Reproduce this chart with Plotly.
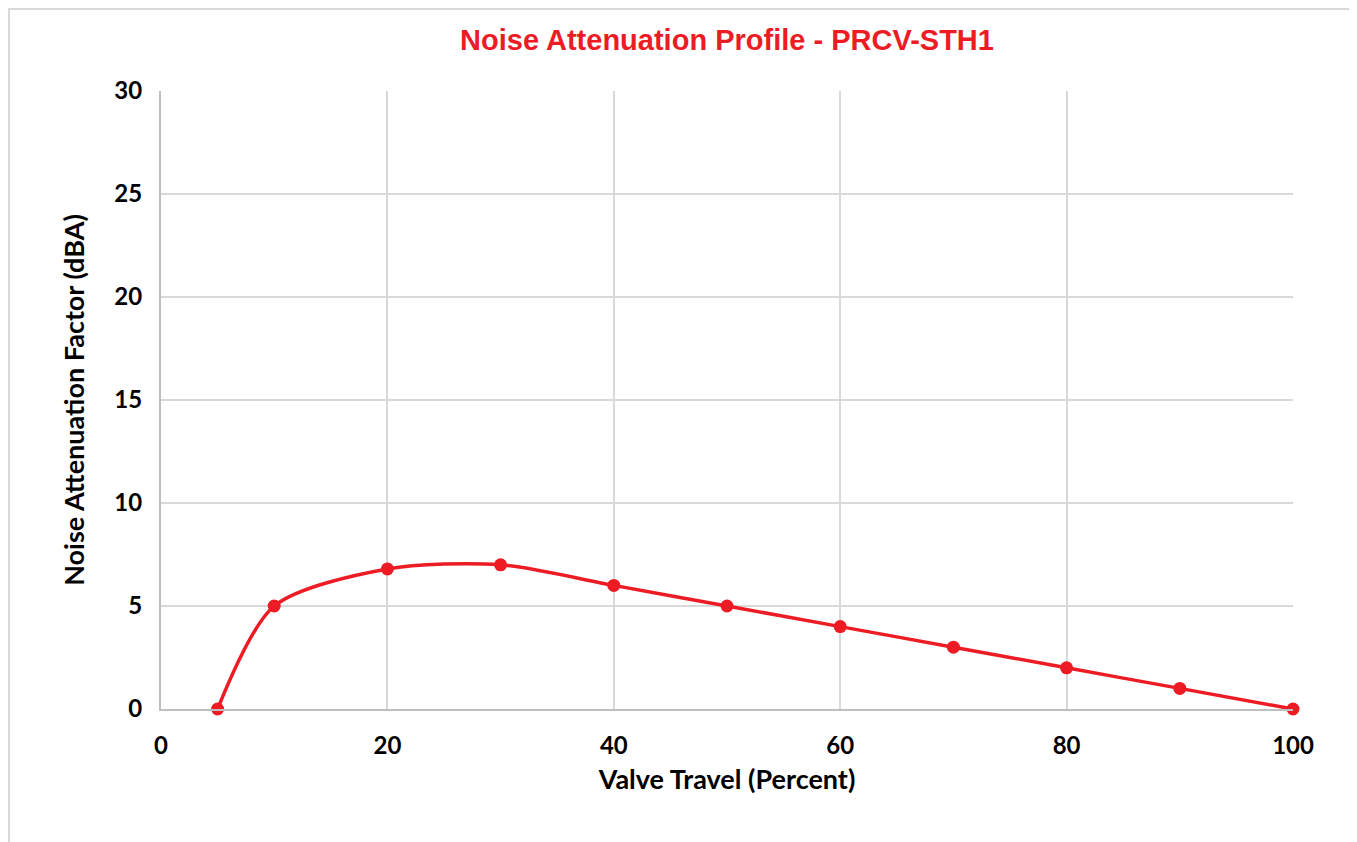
import plotly.graph_objects as go

valve_travel = [5, 10, 20, 30, 40, 50, 60, 70, 80, 90, 100]
attenuation = [0, 5, 6.8, 7, 6, 5, 4, 3, 2, 1, 0]

RED = "#ED1C24"
FONTFAM = "Lato, Open Sans, sans-serif"
TICKFONT = dict(family=FONTFAM, size=24, color="black", weight="bold")

fig = go.Figure()
fig.add_trace(go.Scatter(
    x=valve_travel, y=attenuation, mode="lines+markers",
    line=dict(color=RED, width=3.5, shape="spline", smoothing=0.8),
    marker=dict(color=RED, size=13),
    cliponaxis=False,
    showlegend=False,
))

OFF = 8  # page body margin
W, H = 1357 - OFF, 842 - OFF
L, T = 161 - OFF, 91 - OFF
pw, ph = 1132, 618
R = W - L - pw
B = H - T - ph

fig.update_layout(
    width=W, height=H,
    margin=dict(l=L, r=R, t=T, b=B),
    paper_bgcolor="white", plot_bgcolor="white",
    title=dict(text="Noise Attenuation Profile - PRCV-STH1",
               font=dict(family="Liberation Sans, Arial, sans-serif", size=29, color=RED, weight="bold"),
               x=(727 - OFF) / W, xanchor="center", y=1 - (40 - OFF) / H, yanchor="middle"),
    xaxis=dict(range=[0, 100], tickvals=[0, 20, 40, 60, 80, 100],
               tickfont=TICKFONT, showgrid=True, gridcolor="#d9d9d9", gridwidth=1.5,
               zeroline=False, showline=True, linecolor="#bfbfbf", linewidth=2,
               ticks="", ticklabelstandoff=14,
               title=dict(text="Valve Travel (Percent)",
                          font=dict(family=FONTFAM, size=27, color="black", weight="bold"),
                          standoff=12)),
    yaxis=dict(range=[0, 30], tickvals=[0, 5, 10, 15, 20, 25, 30],
               tickfont=TICKFONT, showgrid=True, gridcolor="#d9d9d9", gridwidth=1.5,
               zeroline=False, showline=True, linecolor="#bfbfbf", linewidth=2,
               ticks="", ticklabelstandoff=12,
               title=dict(text="Noise Attenuation Factor (dBA)",
                          font=dict(family=FONTFAM, size=27, color="black", weight="bold"),
                          standoff=22)),
)

# outer chart border (figure pixel coords converted to paper fractions)
fig.add_shape(type="rect", xref="paper", yref="paper",
              x0=(1 - L) / pw, x1=(1344 - L) / pw,
              y0=(T + ph - (H + 20)) / ph, y1=(T + ph - 1) / ph,
              line=dict(color="#d9d9d9", width=2), layer="below")

fig.write_html("out.html")
